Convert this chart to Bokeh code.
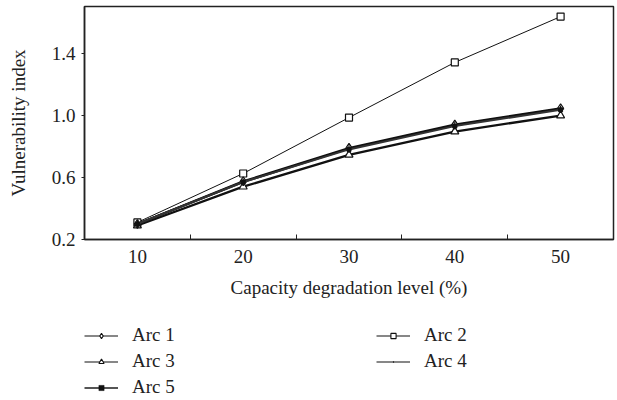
from bokeh.plotting import figure
from bokeh.layouts import column
from bokeh.models import Range1d, FixedTicker, Legend, LegendItem, PrintfTickFormatter
from bokeh.embed import file_html
from bokeh.resources import INLINE

levels = [10, 20, 30, 40, 50]
arc1 = [0.30, 0.575, 0.790, 0.940, 1.045]
arc2 = [0.31, 0.625, 0.985, 1.340, 1.635]
arc3 = [0.29, 0.540, 0.745, 0.895, 0.998]
arc4 = [0.30, 0.570, 0.785, 0.935, 1.040]
arc5 = [0.30, 0.570, 0.780, 0.930, 1.035]
series_names = ["Arc 1", "Arc 2", "Arc 3", "Arc 4", "Arc 5"]
x_ticks = [10, 20, 30, 40, 50]
x_minor = [15, 25, 35, 45]
y_ticks = [0.2, 0.6, 1.0, 1.4]

FONT = "Liberation Serif"
FS = "19px"
INK = "#222222"
col = "#111111"

styles = {
    "Arc 1": dict(line=dict(line_color=col, line_width=2.0),
                  mark=dict(marker="diamond", size=9, fill_color="white", line_color=col, line_width=1.2)),
    "Arc 2": dict(line=dict(line_color=col, line_width=1.0),
                  mark=dict(marker="square", size=7, fill_color="white", line_color=col, line_width=1.2)),
    "Arc 3": dict(line=dict(line_color=col, line_width=2.3),
                  mark=dict(marker="triangle", size=8, fill_color="white", line_color=col, line_width=1.2)),
    "Arc 4": dict(line=dict(line_color=col, line_width=2.0),
                  mark=dict(marker="cross", size=7, line_color=col, line_width=1.2)),
    "Arc 5": dict(line=dict(line_color="#333333", line_width=2.0),
                  mark=dict(marker="square", size=4, fill_color=col, line_color=col)),
}
legend_styles = {
    "Arc 1": dict(line=dict(line_color=col, line_width=1.1),
                  mark=dict(marker="diamond", fill_color="white", line_color=col, line_width=1.1)),
    "Arc 2": dict(line=dict(line_color=col, line_width=1.1),
                  mark=dict(marker="square", fill_color="white", line_color=col, line_width=1.1)),
    "Arc 3": dict(line=dict(line_color=col, line_width=1.1),
                  mark=dict(marker="triangle", fill_color="white", line_color=col, line_width=1.1)),
    "Arc 4": dict(line=dict(line_color=col, line_width=1.1),
                  mark=dict(marker="dot", line_color=col, line_width=1.5)),
    "Arc 5": dict(line=dict(line_color="#555555", line_width=2.0),
                  mark=dict(marker="square", fill_color=col, line_color=col, fill_alpha=1.0, line_width=0.5)),
}
values = {"Arc 1": arc1, "Arc 2": arc2, "Arc 3": arc3, "Arc 4": arc4, "Arc 5": arc5}

p = figure(width=617, height=304, output_backend="svg", toolbar_location=None,
           x_range=Range1d(5, 55), y_range=Range1d(0.2, 1.7),
           min_border_top=6, min_border_right=4, min_border_left=84,
           min_border_bottom=65)
p.grid.visible = False
p.outline_line_color = INK
p.outline_line_width = 1.5
p.background_fill_color = "white"

xa = p.xaxis[0]
xa.ticker = FixedTicker(ticks=x_ticks, minor_ticks=x_minor)
xa.major_tick_out = 0
xa.major_tick_in = 0
xa.minor_tick_in = 5
xa.minor_tick_out = 0
xa.axis_label = "Capacity degradation level (%)"

ya = p.yaxis[0]
ya.ticker = FixedTicker(ticks=y_ticks, minor_ticks=[])
ya.formatter = PrintfTickFormatter(format="%.1f")
ya.major_tick_out = 3
ya.major_tick_in = 0
ya.axis_label = "Vulnerability index"

for ax in (xa, ya):
    ax.axis_line_width = 1.5
    ax.major_label_text_font = FONT
    ax.major_label_text_font_size = FS
    ax.major_label_text_color = INK
    ax.axis_label_text_font = FONT
    ax.axis_label_text_font_size = FS
    ax.axis_label_text_font_style = "normal"
    ax.axis_label_text_color = INK
    ax.axis_line_color = INK
    ax.major_tick_line_color = INK
    ax.minor_tick_line_color = INK
xa.major_label_standoff = 10
xa.axis_label_standoff = 11
ya.major_label_standoff = 6
ya.axis_label_standoff = 20

for name in ["Arc 2", "Arc 3", "Arc 1", "Arc 4", "Arc 5"]:
    p.line(levels, values[name], **styles[name]["line"])
    p.scatter(levels, values[name], **styles[name]["mark"])

# legend panel (its sample renderers use the same data but lie outside its view)
q = figure(width=617, height=96, output_backend="svg", toolbar_location=None,
           x_axis_type=None, y_axis_type=None,
           x_range=Range1d(1000, 1001), y_range=Range1d(1000, 1001),
           min_border_top=0, min_border_bottom=0, min_border_right=4, min_border_left=84)
q.grid.visible = False
q.outline_line_color = None
legend_items = {}
for name in series_names:
    lr = q.line(levels, values[name], **legend_styles[name]["line"])
    mr = q.scatter(levels, values[name], **legend_styles[name]["mark"])
    legend_items[name] = LegendItem(label=name, renderers=[lr, mr])
order = ["Arc 1", "Arc 3", "Arc 5", "Arc 2", "Arc 4"]
leg = Legend(items=[legend_items[n] for n in order], ncols=2, location=(0, 2),
             orientation="vertical",
             border_line_color=None, background_fill_alpha=0,
             label_text_font=FONT, label_text_font_size=FS, label_text_color=INK,
             glyph_width=34, glyph_height=13, label_standoff=14, label_width=240,
             spacing=4, padding=0, margin=0)
q.add_layout(leg, "center")

layout = column(p, q, spacing=0)
open("out.html", "w").write(file_html(layout, INLINE))
